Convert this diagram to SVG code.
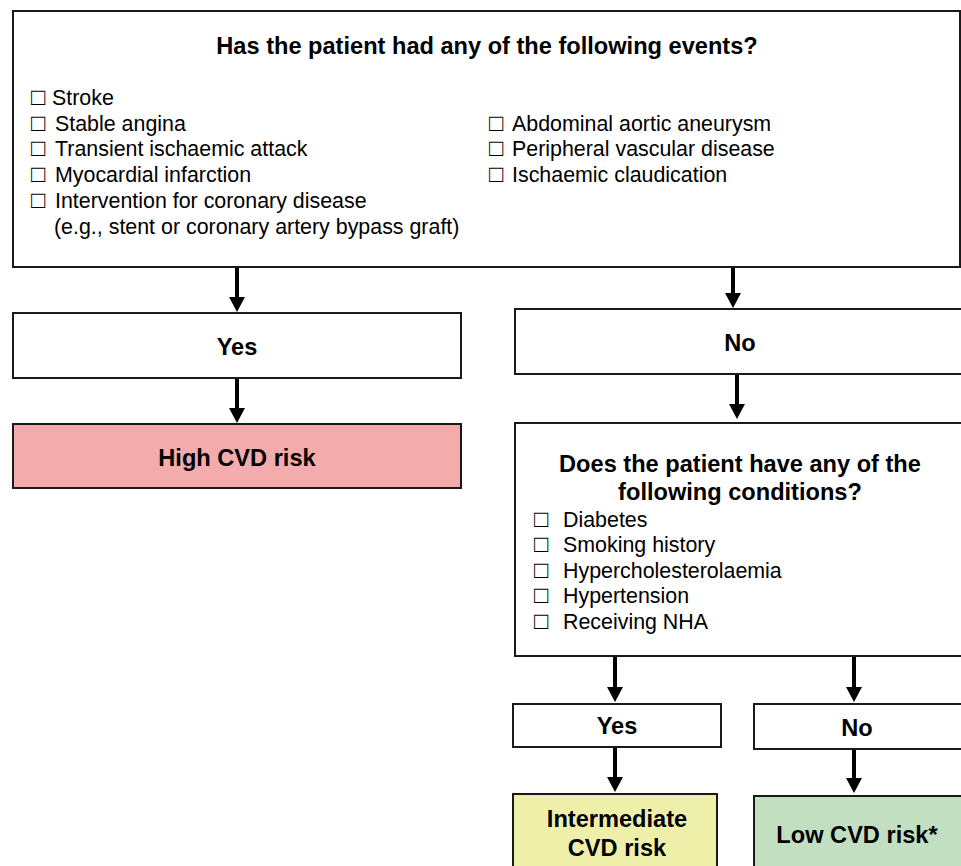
<svg xmlns="http://www.w3.org/2000/svg" width="961" height="866" viewBox="0 0 961 866">
<defs>
<style>
.box{stroke:#1a1a1a;stroke-width:2;fill:#fff}
.t{font-family:"Liberation Sans",Arial,sans-serif;fill:#000}
.b{font-weight:bold;font-size:23.6px;text-anchor:middle}
.l{font-size:21.4px}
.k{font-size:24px}
.c{stroke:#000;stroke-width:4;fill:none}
</style>
</defs>
<rect width="961" height="866" fill="#fff"/>
<g id="connectors">
<line class="c" x1="237" y1="268" x2="237" y2="297"/>
<path d="M229,297 L245,297 L237,312 Z"/>
<line class="c" x1="237" y1="379" x2="237" y2="408"/>
<path d="M229,408 L245,408 L237,423 Z"/>
<line class="c" x1="733" y1="268" x2="733" y2="294"/>
<path d="M725,293 L741,293 L733,308 Z"/>
<line class="c" x1="737" y1="375" x2="737" y2="405"/>
<path d="M729,404 L745,404 L737,419 Z"/>
<line class="c" x1="615" y1="657" x2="615" y2="688"/>
<path d="M607,687 L623,687 L615,702 Z"/>
<line class="c" x1="854" y1="657" x2="854" y2="688"/>
<path d="M846,687 L862,687 L854,702 Z"/>
<line class="c" x1="615" y1="748" x2="615" y2="778"/>
<path d="M607,777 L623,777 L615,792 Z"/>
<line class="c" x1="854" y1="750" x2="854" y2="779"/>
<path d="M846,778 L862,778 L854,793 Z"/>
</g>
<g id="events">
<rect class="box" x="13" y="11" width="947" height="256"/>
<text class="t b" x="487" y="54">Has the patient had any of the following events?</text>
<text class="t k" x="31" y="105">□</text><text class="t l" x="52" y="105">Stroke</text>
<text class="t k" x="31" y="131">□</text><text class="t l" x="55" y="131">Stable angina</text>
<text class="t k" x="31" y="156">□</text><text class="t l" x="55" y="156">Transient ischaemic attack</text>
<text class="t k" x="31" y="182">□</text><text class="t l" x="55" y="182">Myocardial infarction</text>
<text class="t k" x="31" y="208">□</text><text class="t l" x="55" y="208">Intervention for coronary disease</text>
<text class="t l" x="54" y="234">(e.g., stent or coronary artery bypass graft)</text>
<text class="t k" x="489" y="131">□</text><text class="t l" x="512" y="131">Abdominal aortic aneurysm</text>
<text class="t k" x="489" y="156">□</text><text class="t l" x="512" y="156">Peripheral vascular disease</text>
<text class="t k" x="489" y="182">□</text><text class="t l" x="512" y="182">Ischaemic claudication</text>
</g>
<g id="yes1">
<rect class="box" x="13" y="313" width="448" height="65"/>
<text class="t b" x="237" y="355">Yes</text>
</g>
<g id="high">
<rect class="box" x="13" y="424" width="448" height="64" style="fill:#f4abab"/>
<text class="t b" x="237" y="466">High CVD risk</text>
</g>
<g id="no1">
<rect class="box" x="515" y="309" width="470" height="65"/>
<text class="t b" x="740" y="351">No</text>
</g>
<g id="conditions">
<rect class="box" x="515" y="423" width="470" height="233"/>
<text class="t b" x="740" y="472">Does the patient have any of the</text>
<text class="t b" x="740" y="500">following conditions?</text>
<text class="t k" x="534" y="527">□</text><text class="t l" x="563" y="527">Diabetes</text>
<text class="t k" x="534" y="552">□</text><text class="t l" x="563" y="552">Smoking history</text>
<text class="t k" x="534" y="578">□</text><text class="t l" x="563" y="578">Hypercholesterolaemia</text>
<text class="t k" x="534" y="603">□</text><text class="t l" x="563" y="603">Hypertension</text>
<text class="t k" x="534" y="629">□</text><text class="t l" x="563" y="629">Receiving NHA</text>
</g>
<g id="yes2">
<rect class="box" x="513" y="704" width="208" height="43"/>
<text class="t b" x="617" y="734">Yes</text>
</g>
<g id="no2">
<rect class="box" x="754" y="704" width="230" height="45"/>
<text class="t b" x="857" y="736">No</text>
</g>
<g id="intermediate">
<rect class="box" x="513" y="794" width="204" height="90" style="fill:#eef0aa"/>
<text class="t b" x="617" y="827">Intermediate</text>
<text class="t b" x="617" y="856">CVD risk</text>
</g>
<g id="low">
<rect class="box" x="754" y="796" width="230" height="90" style="fill:#c2e0c1"/>
<text class="t b" x="857" y="843">Low CVD risk*</text>
</g>
</svg>
